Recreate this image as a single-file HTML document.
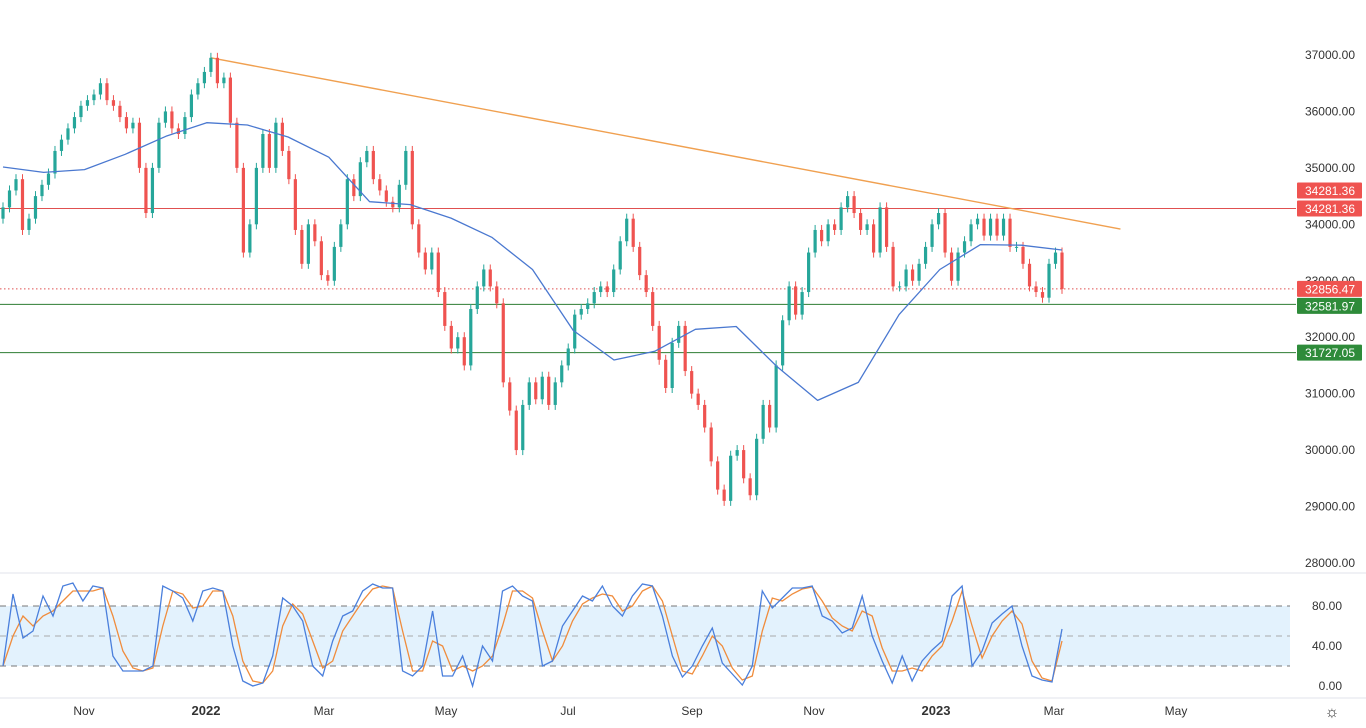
<!DOCTYPE html>
<html><head><meta charset="utf-8"><style>
html,body{margin:0;padding:0;background:#fff;}
svg{display:block;font-family:"Liberation Sans",sans-serif;}
</style></head><body>
<svg id="chart" width="1366" height="728" viewBox="0 0 1366 728" xmlns="http://www.w3.org/2000/svg">
<rect x="0" y="0" width="1366" height="728" fill="#ffffff"/>
<g id="stochBand"></g>
<g id="levels"></g>
<g id="candles"></g>
<g id="ma"></g>
<g id="stoch"></g>
<g id="axes"></g>
</svg>
<script>
const closes=[34300,34600,34800,33900,34100,34500,34700,34900,35300,35500,35700,35900,36100,36200,36300,36500,36200,36100,35900,35700,35800,35000,34200,35000,35800,36000,35700,35600,35900,36300,36500,36700,36950,
36500,36600,35800,35000,33500,34000,35000,35600,35000,35800,35300,34800,33900,33300,34000,33700,33100,33000,33600,34000,34800,34500,35100,35300,34800,34600,34400,34300,34700,35300,34000,33500,33200,33500,32800,32200,31800,32000,31500,32500,32900,33200,32900,32600,31200,30700,30000,30800,31200,30900,31300,30800,31200,31500,31800,32400,32500,32600,32800,32900,32800,33200,33700,34100,33600,33100,32800,32200,31600,31100,31900,32200,31400,31000,30800,30400,29800,29300,29100,29900,30000,29500,29200,30200,30800,30400,31500,32300,32900,32400,32800,33500,33900,33700,34000,33900,34300,34500,34200,33900,34000,33500,34300,33600,32900,32900,33200,33000,33300,33600,34000,34200,33500,33000,33500,33700,34000,34100,33800,34100,33800,34100,33600,33600,33300,32900,32800,32700,33300,33500,32856];
const firstOpen=34100;
const maValues=[35015,34920,34970,35240,35560,35800,35760,35547,35190,34400,34350,34110,33770,33200,32120,31596,31750,32140,32190,31480,30880,31200,32400,33200,33640,33630,33545];
const stochK=[20,92,48,55,90,70,100,103,85,100,98,30,15,15,15,20,100,95,88,65,95,98,95,40,5,0,3,30,88,80,65,20,10,45,70,75,95,102,98,98,15,10,20,75,10,10,30,0,40,25,95,100,90,85,20,25,60,75,90,85,100,80,70,90,102,100,70,30,
9,20,40,58,23,12,1,20,95,78,88,98,98,100,70,65,53,58,90,50,25,3,30,5,25,36,45,90,100,20,35,63,72,80,40,10,6,4,57];
const stochD=[20,50,70,60,70,75,85,95,95,95,98,70,35,18,15,18,60,95,92,78,80,95,95,70,25,5,3,15,60,82,72,45,18,25,55,70,85,97,100,98,55,15,15,45,40,15,20,15,20,30,60,95,95,88,55,25,40,65,82,88,92,90,75,80,95,100,85,50,
15,12,30,50,40,18,6,10,55,88,85,92,97,99,85,68,60,55,75,70,38,15,15,18,15,30,40,65,95,60,28,50,65,75,62,25,8,5,45];
const priceTicks=[37000,36000,35000,34000,33000,32000,31000,30000,29000,28000];
const priceTickLabels=["37000.00","36000.00","35000.00","34000.00","33000.00","32000.00","31000.00","30000.00","29000.00","28000.00"];
const stochTicks=[80,40,0];
const stochTickLabels=["80.00","40.00","0.00"];
const monthLabels=["Nov","2022","Mar","May","Jul","Sep","Nov","2023","Mar","May"];
const monthDays=[0,61,120,181,242,304,365,426,485,546];
const monthBold=[false,true,false,false,false,false,false,true,false,false];
const resistance=34281.36, lastPrice=32856.47, support1=32581.97, support2=31727.05;
const trendStartIdx=32, trendStartPrice=36950, trendEndIdx=172, trendEndPrice=33917;

const NS="http://www.w3.org/2000/svg";
const X0=3,X1=1062;
function yP(p){return 55+(37000-p)*0.05644;}
function yS(v){return 686-v;}
function xIdx(i,n){return X0+i*(X1-X0)/(n-1);}
function xDay(d){return 84+2.0*d;}
function mk(tag,attrs,parent){const e=document.createElementNS(NS,tag);for(const k in attrs)e.setAttribute(k,attrs[k]);parent.appendChild(e);return e;}
const N=closes.length;
const step=(X1-X0)/(N-1);
function xC(i){return X0+i*step;}

const sb=document.getElementById('stochBand');
const band=mk('rect',{x:0,y:yS(80),width:1290,height:yS(20)-yS(80),fill:'#e3f2fd'},sb);


[80,50,20].forEach(v=>{
  const l=mk('line',{x1:0,x2:1290,y1:yS(v),y2:yS(v),stroke:v==50?'#aaa':'#777','stroke-dasharray':'6,5','stroke-width':1},sb);
  
  
});

const lv=document.getElementById('levels');
function hline(p,color,name,dash){
  const l=mk('line',{x1:0,x2:1296,y1:yP(p),y2:yP(p),stroke:color,'stroke-width':1},lv);
  if(dash)l.setAttribute('stroke-dasharray',dash);
  
  
}
hline(resistance,'#e05050','resistance-line');
hline(lastPrice,'#e05050','last-price-line','1.5,2.5');
hline(support1,'#2e7d32','support-line-1');
hline(support2,'#2e7d32','support-line-2');
const tl=mk('line',{x1:xC(trendStartIdx),y1:yP(trendStartPrice),x2:xC(trendEndIdx),y2:yP(trendEndPrice),stroke:'#f0a050','stroke-width':1.4},lv);



const cg=document.getElementById('candles');
for(let i=0;i<N;i++){
  const o=i==0?firstOpen:closes[i-1], c=closes[i];
  const up=c>=o;
  const y1=yP(Math.max(o,c)), y2=yP(Math.min(o,c));
  const col=up?'#26a69a':'#ef5350';
  const w=mk('line',{x1:xC(i),x2:xC(i),y1:y1-5,y2:y2+5,stroke:col,'stroke-width':1},cg);
  
  
  const r=mk('rect',{x:xC(i)-1.6,y:y1,width:3.2,height:Math.max(1,y2-y1),fill:col},cg);
  
  
}

const mg=document.getElementById('ma');
const maPath=maValues.map((v,i)=>(i?'L':'M')+xIdx(i,maValues.length).toFixed(1)+' '+yP(v).toFixed(1)).join(' ');
const mp=mk('path',{d:maPath,fill:'none',stroke:'#4a78d0','stroke-width':1.3,'stroke-linejoin':'round'},mg);



const sg=document.getElementById('stoch');
function spath(arr,color,name){
  const d=arr.map((v,i)=>(i?'L':'M')+xIdx(i,arr.length).toFixed(1)+' '+yS(v).toFixed(1)).join(' ');
  const p=mk('path',{d:d,fill:'none',stroke:color,'stroke-width':1.3},sg);
  
  
}
spath(stochD,'#f08c3c','stochastic-d-line');
spath(stochK,'#4a7fdc','stochastic-k-line');

const ag=document.getElementById('axes');
const sep=mk('line',{x1:0,x2:1366,y1:573,y2:573,stroke:'#e0e3eb','stroke-width':1},ag);


const bot=mk('line',{x1:0,x2:1366,y1:698,y2:698,stroke:'#e0e3eb','stroke-width':1},ag);


priceTicks.forEach((p,i)=>{
  const t=mk('text',{x:1355,y:yP(p)+4,'text-anchor':'end','font-size':12,fill:'#333'},ag);
  t.textContent=priceTickLabels[i];
  
  
});
stochTicks.forEach((v,i)=>{
  const t=mk('text',{x:1342,y:yS(v)+4,'text-anchor':'end','font-size':12,fill:'#333'},ag);
  t.textContent=stochTickLabels[i];
  
  
});
function badge(p,color,label,yOff,name){
  const y=yP(p)+yOff;
  const r=mk('rect',{x:1297,y:y-8,width:65,height:16,fill:color,rx:1},ag);
  
  
  const t=mk('text',{x:1330,y:y+4.5,'text-anchor':'middle','font-size':12,fill:'#fff'},ag);
  t.textContent=label;
  
  
}
badge(resistance,'#ef5350','34281.36',-18,'resistance-top');
badge(resistance,'#ef5350','34281.36',0,'resistance');
badge(lastPrice,'#ef5350','32856.47',0,'last-price');
badge(support1,'#2e8b3a','32581.97',1.5,'support-1');
badge(support2,'#2e8b3a','31727.05',0,'support-2');
monthLabels.forEach((m,i)=>{
  const t=mk('text',{x:xDay(monthDays[i]),y:715,'text-anchor':'middle','font-size':monthBold[i]?13:12,'font-weight':monthBold[i]?'bold':'normal',fill:'#333'},ag);
  t.textContent=m;
  
  
});
const gear=mk('text',{x:1332,y:717,'text-anchor':'middle','font-size':16,fill:'#333'},ag);
gear.textContent='☼';


</script>
</body></html>
